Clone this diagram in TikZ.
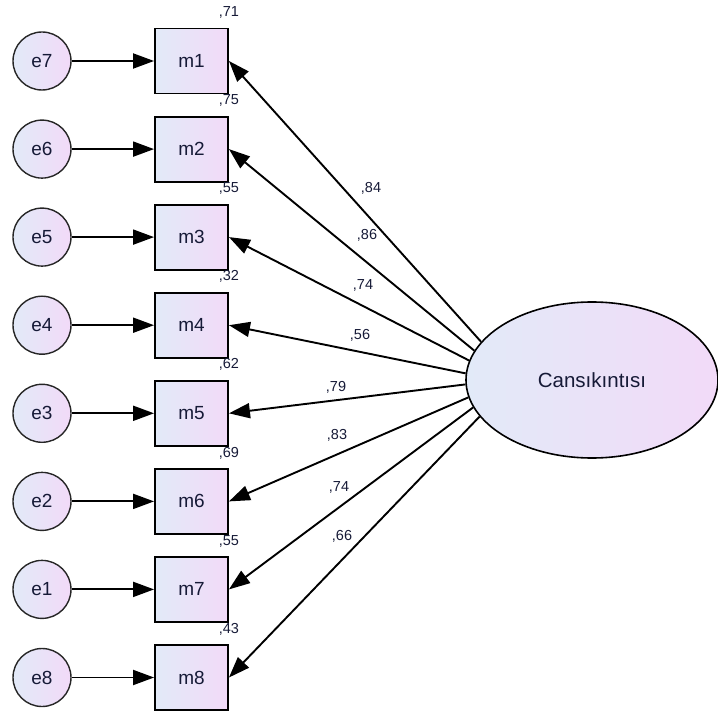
\documentclass[tikz,border=0pt]{standalone}
\usepackage{fontspec}
\setmainfont{Liberation Sans}
\usetikzlibrary{arrows.meta,shapes.geometric}
\definecolor{fillL}{RGB}{226,234,248}
\definecolor{fillR}{RGB}{242,218,248}
\definecolor{txt}{RGB}{22,26,55}
\begin{document}
\begin{tikzpicture}[x=1pt,y=-1pt,
  obs/.style={draw=black,line width=1.9pt,minimum width=73pt,minimum height=65pt,inner sep=0pt,
    left color=fillL,right color=fillR,font=\fontsize{19}{21}\selectfont,text=txt},
  err/.style={circle,draw=black!85,line width=1.4pt,minimum size=58pt,inner sep=0pt,
    left color=fillL,right color=fillR,font=\fontsize{19}{21}\selectfont,text=txt},
  lat/.style={ellipse,draw=black,line width=1.6pt,minimum width=252pt,minimum height=156pt,inner sep=0pt,
    left color=fillL,right color=fillR,font=\fontsize{20.5}{23}\selectfont,text=txt},
  pathline/.style={line width=1.9pt,-{Triangle[length=21pt,width=15pt]}},
  coef/.style={font=\fontsize{14.5}{16}\selectfont,text=txt,inner sep=0pt}]
\useasboundingbox (0,0) rectangle (718,714);
\node[lat] (F) at (592,380) {Cansıkıntısı};
\foreach \i/\e/\y/\sq in {1/7/61/71, 2/6/149.1/75, 3/5/237.1/55, 4/4/325.2/32,
    5/3/413.3/62, 6/2/501.4/69, 7/1/589.4/55, 8/8/677.5/43} {
  \node[err] (e\e) at (42,\y) {e\e};
  \node[obs] (m\i) at (191.5,\y) {m\i};
  \draw[pathline] (e\e) -- (m\i);
  \node[coef] (r\i) at ([yshift=15pt]m\i.north east) {,\sq};
}
\foreach \i/\ang in {1/161, 2/166.4, 3/171.8, 4/177.2, 5/182.6, 6/188, 7/193.4, 8/198.8} {
  \draw[pathline] (F.\ang) -- (m\i.east);
}
\foreach \i/\x/\y/\v in {1/371/188/84, 2/367/235/86, 3/363/285/74, 4/360/335/56,
    5/336/387/79, 6/337/435/83, 7/339/487/74, 8/342/536/66} {
  \node[coef] (w\i) at (\x,\y) {,\v};
}
\end{tikzpicture}
\end{document}
